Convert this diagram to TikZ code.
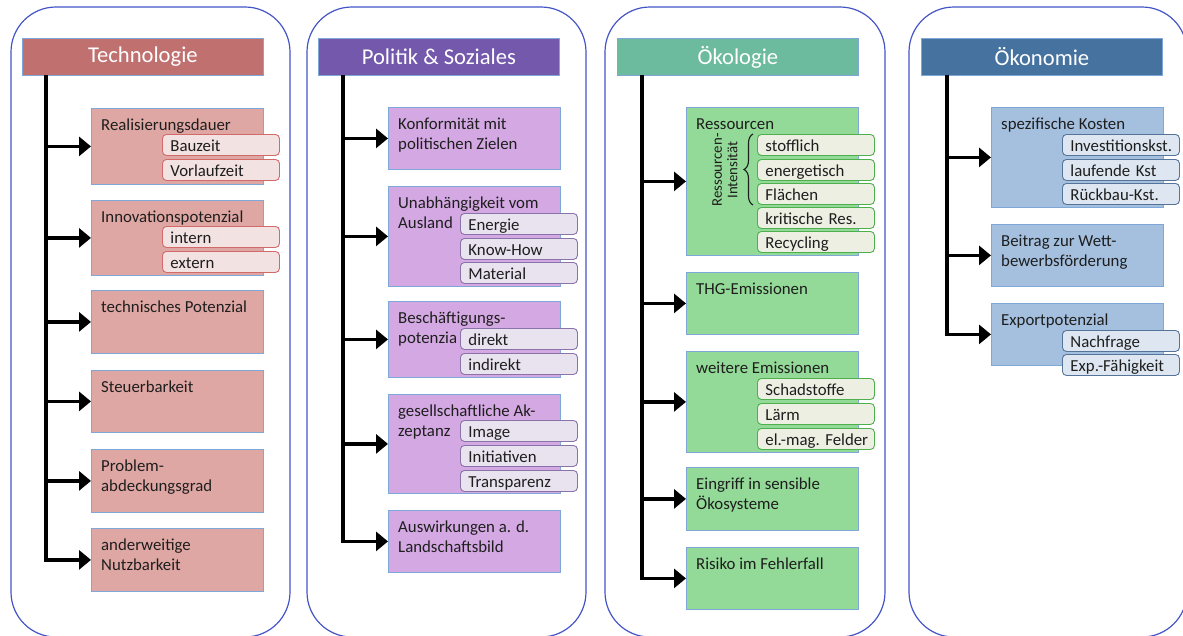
\documentclass[tikz,border=0pt]{standalone}
\usepackage{fontspec}
\setmainfont{Carlito}
\usetikzlibrary{arrows.meta,decorations.pathreplacing}
\hyphenpenalty=10000
\exhyphenpenalty=10000
\definecolor{panelc}{HTML}{4455C8}
\definecolor{bordc}{HTML}{7FA7D8}
\definecolor{txtc}{HTML}{1E1E1E}
\definecolor{hdrA}{HTML}{C0706F}
\definecolor{boxA}{HTML}{DFA7A3}
\definecolor{subfA}{HTML}{F2E2E1}
\definecolor{subbA}{HTML}{D26A6A}
\definecolor{hdrB}{HTML}{7358AC}
\definecolor{boxB}{HTML}{D4A9E3}
\definecolor{subfB}{HTML}{E9E2EF}
\definecolor{subbB}{HTML}{8A73A8}
\definecolor{hdrC}{HTML}{6DBB9E}
\definecolor{boxC}{HTML}{93D997}
\definecolor{subfC}{HTML}{EEEFE3}
\definecolor{subbC}{HTML}{4DB04D}
\definecolor{hdrD}{HTML}{46729F}
\definecolor{boxD}{HTML}{A5C0DF}
\definecolor{subfD}{HTML}{DEE7F1}
\definecolor{subbD}{HTML}{55749A}
\newcommand\fl{\rule{0pt}{14pt}}
\begin{document}
\begin{tikzpicture}[x=1pt,y=-1pt,
  panel/.style={draw=panelc, line width=1.2pt, rounded corners=45pt},
  hdr/.style={draw=bordc, line width=0.8pt, anchor=north west, minimum width=241pt, minimum height=37pt, inner sep=0pt, text=white, font=\fontsize{22.6}{27}\selectfont},
  box/.style={draw=bordc, line width=0.8pt, anchor=north west, minimum width=172pt, inner sep=0pt},
  lbl/.style={anchor=north west, inner sep=0pt, align=left, text=txtc, font=\fontsize{16.8}{20}\selectfont},
  sub/.style={line width=0.9pt, rounded corners=4pt, anchor=north west, minimum height=21pt, inner xsep=8pt, inner ysep=0pt, text width=101pt, align=left, text height=17pt, text depth=4pt, text=txtc, font=\fontsize{16.8}{20}\selectfont},
  subA/.style={sub, draw=subbA, fill=subfA},
  subB/.style={sub, draw=subbB, fill=subfB},
  subC/.style={sub, draw=subbC, fill=subfC},
  subD/.style={sub, draw=subbD, fill=subfD},
  conn/.style={line width=3.5pt, -{Triangle[length=12pt,width=19pt]}},
]
\useasboundingbox (0,0) rectangle (1183,635);

% panels
\draw[panel] (11,7) rectangle (290,637);
\draw[panel] (307,7) rectangle (586,637);
\draw[panel] (605,7) rectangle (885,637);
\draw[panel] (909,7) rectangle (1187,637);

% headers
\node[hdr, fill=hdrA] (hA) at (22,38) {Technologie};
\node[hdr, fill=hdrB] (hB) at (318,38) {Politik \& Soziales};
\node[hdr, fill=hdrC] (hC) at (617,38) {Ökologie};
\node[hdr, fill=hdrD] (hD) at (921,38) {Ökonomie};

\coordinate (tA) at (46,75);
\coordinate (tB) at (343,75);
\coordinate (tC) at (642,75);
\coordinate (tD) at (947,75);

% ---------- Technologie ----------
\node[box, fill=boxA, minimum height=76pt] (a1) at (91,108) {};
\node[box, fill=boxA, minimum height=75pt] (a2) at (91,200) {};
\node[box, fill=boxA, minimum height=63pt] (a3) at (91,290) {};
\node[box, fill=boxA, minimum height=62pt] (a4) at (91,370) {};
\node[box, fill=boxA, minimum height=63pt] (a5) at (91,449) {};
\node[box, fill=boxA, minimum height=63pt] (a6) at (91,528) {};
\draw[conn] (tA) |- (a6.west);
\foreach \n in {a1,a2,a3,a4,a5} \draw[conn] (tA |- \n.west) -- (\n.west);
\node[lbl] (la1) at ([xshift=10pt,yshift=-8pt]a1.north west) {\fl Realisierungsdauer};
\node[lbl] (la2) at ([xshift=10pt,yshift=-8pt]a2.north west) {\fl Innovationspotenzial};
\node[lbl] (la3) at ([xshift=10pt,yshift=-8pt]a3.north west) {\fl technisches Potenzial};
\node[lbl] (la4) at ([xshift=10pt,yshift=-8pt]a4.north west) {\fl Steuerbarkeit};
\node[lbl] (la5) at ([xshift=10pt,yshift=-8pt]a5.north west) {\fl Problem-\\abdeckungsgrad};
\node[lbl] (la6) at ([xshift=10pt,yshift=-8pt]a6.north west) {\fl anderweitige\\Nutzbarkeit};
\node[subA] (sa1) at (162,134) {Bauzeit};
\node[subA] (sa2) at (162,159) {Vorlaufzeit};
\node[subA] (sa3) at (162,226) {intern};
\node[subA] (sa4) at (162,251) {extern};

% ---------- Politik & Soziales ----------
\node[box, fill=boxB, minimum height=62pt] (b1) at (388,107) {};
\node[box, fill=boxB, minimum height=100pt] (b2) at (388,186) {};
\node[box, fill=boxB, minimum height=76pt] (b3) at (388,301) {};
\node[box, fill=boxB, minimum height=99pt] (b4) at (388,394) {};
\node[box, fill=boxB, minimum height=62pt] (b5) at (388,510) {};
\draw[conn] (tB) |- (b5.west);
\foreach \n in {b1,b2,b3,b4} \draw[conn] (tB |- \n.west) -- (\n.west);
\node[lbl] (lb1) at ([xshift=10pt,yshift=-8pt]b1.north west) {\fl Konformität mit\\politischen Zielen};
\node[lbl] (lb2) at ([xshift=10pt,yshift=-8pt]b2.north west) {\fl Unabhängigkeit vom\\Ausland};
\node[lbl] (lb3) at ([xshift=10pt,yshift=-8pt]b3.north west) {\fl Beschäftigungs-\\potenzia};
\node[lbl] (lb4) at ([xshift=10pt,yshift=-8pt]b4.north west) {\fl gesellschaftliche Ak-\\zeptanz};
\node[lbl] (lb5) at ([xshift=10pt,yshift=-8pt]b5.north west) {\fl Auswirkungen a. d.\\Landschaftsbild};
\node[subB] (sb1) at (460,213) {Energie};
\node[subB] (sb2) at (460,238) {Know-How};
\node[subB] (sb3) at (460,262) {Material};
\node[subB] (sb4) at (460,328) {direkt};
\node[subB] (sb5) at (460,353) {indirekt};
\node[subB] (sb6) at (460,420) {Image};
\node[subB] (sb7) at (460,445) {Initiativen};
\node[subB] (sb8) at (460,470) {Transparenz};

% ---------- Oekologie ----------
\node[box, fill=boxC, minimum height=148pt] (c1) at (686,107) {};
\node[box, fill=boxC, minimum height=62pt] (c2) at (686,272) {};
\node[box, fill=boxC, minimum height=101pt] (c3) at (686,351) {};
\node[box, fill=boxC, minimum height=63pt] (c4) at (686,467) {};
\node[box, fill=boxC, minimum height=62pt] (c5) at (686,547) {};
\draw[conn] (tC) |- (c5.west);
\foreach \n in {c1,c2,c3,c4} \draw[conn] (tC |- \n.west) -- (\n.west);
\node[lbl] (lc1) at ([xshift=10pt,yshift=-8pt]c1.north west) {\fl Ressourcen};
\node[lbl] (lc2) at ([xshift=10pt,yshift=-8pt]c2.north west) {\fl THG-Emissionen};
\node[lbl] (lc3) at ([xshift=10pt,yshift=-8pt]c3.north west) {\fl weitere Emissionen};
\node[lbl] (lc4) at ([xshift=10pt,yshift=-8pt]c4.north west) {\fl Eingriff in sensible\\Ökosysteme};
\node[lbl] (lc5) at ([xshift=10pt,yshift=-8pt]c5.north west) {\fl Risiko im Fehlerfall};
\node[rotate=90, align=center, inner sep=0pt, text=txtc, font=\fontsize{14.8}{15.5}\selectfont] (ri) at (725,170) {Ressourcen-\\Intensität};
\draw[line width=1.1pt, txtc, decorate, decoration={brace, amplitude=9pt}] (753,205) -- (753,134);
\node[subC] (sc1) at (757,134) {stofflich};
\node[subC] (sc2) at (757,159) {energetisch};
\node[subC] (sc3) at (757,183) {Flächen};
\node[subC] (sc4) at (757,207) {kritische Res.};
\node[subC] (sc5) at (757,231) {Recycling};
\node[subC] (sc6) at (757,378) {Schadstoffe};
\node[subC] (sc7) at (757,403) {Lärm};
\node[subC] (sc8) at (757,428) {el.-mag.~Felder};

% ---------- Oekonomie ----------
\node[box, fill=boxD, minimum height=100pt] (d1) at (991,107) {};
\node[box, fill=boxD, minimum height=62pt] (d2) at (991,224) {};
\node[box, fill=boxD, minimum height=62pt] (d3) at (991,303) {};
\draw[conn] (tD) |- (d3.west);
\foreach \n in {d1,d2} \draw[conn] (tD |- \n.west) -- (\n.west);
\node[lbl] (ld1) at ([xshift=10pt,yshift=-8pt]d1.north west) {\fl spezifische Kosten};
\node[lbl] (ld2) at ([xshift=10pt,yshift=-8pt]d2.north west) {\fl Beitrag zur Wett-\\bewerbsförderung};
\node[lbl] (ld3) at ([xshift=10pt,yshift=-8pt]d3.north west) {\fl Exportpotenzial};
\node[subD] (sd1) at (1062,134) {Investitionskst.};
\node[subD] (sd2) at (1062,159) {laufende Kst};
\node[subD] (sd3) at (1062,183) {Rückbau-Kst.};
\node[subD] (sd4) at (1062,330) {Nachfrage};
\node[subD] (sd5) at (1062,354) {Exp.-Fähigkeit};
\end{tikzpicture}
\end{document}
